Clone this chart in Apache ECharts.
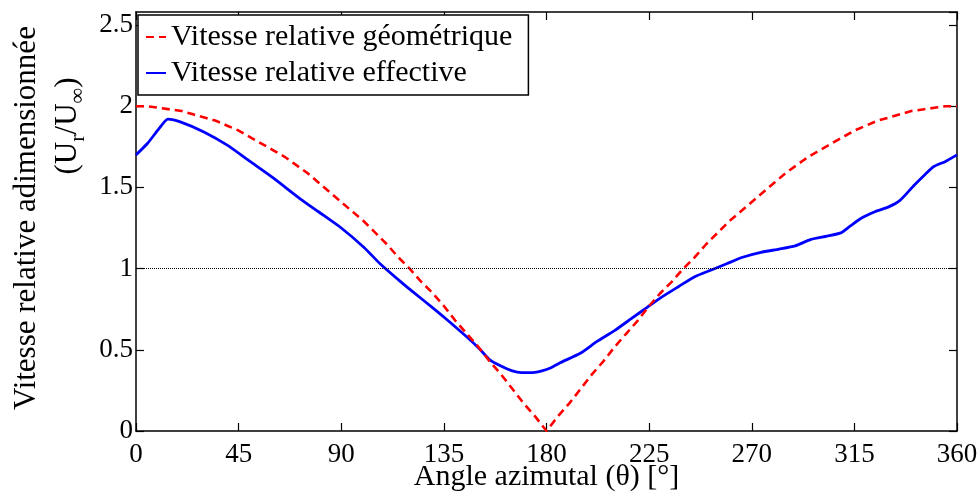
<!DOCTYPE html>
<html>
<head>
<meta charset="utf-8">
<script src="https://cdn.jsdelivr.net/npm/echarts@6/dist/echarts.min.js"></script>
<style>
  html, body { margin: 0; padding: 0; background: #fff; }
  #chart { width: 979px; height: 500px; }
</style>
</head>
<body>
<div id="chart"></div>
<script>
// données
var xTicks = [0, 45, 90, 135, 180, 225, 270, 315, 360];
var yTicks = [0, 0.5, 1, 1.5, 2, 2.5];

var geoAngles = [0, 5, 10, 15, 20, 25, 30, 35, 40, 45, 50, 55, 60, 65, 70, 75, 80, 85, 90,
    95, 100, 105, 110, 115, 120, 125, 130, 135, 140, 145, 150, 155, 160, 165, 170, 175, 180,
    185, 190, 195, 200, 205, 210, 215, 220, 225, 230, 235, 240, 245, 250, 255, 260, 265, 270,
    275, 280, 285, 290, 295, 300, 305, 310, 315, 320, 325, 330, 335, 340, 345, 350, 355, 360];
var geoValues = [2.00, 2.00, 1.99, 1.98, 1.97, 1.95, 1.93, 1.91, 1.88, 1.85, 1.81, 1.77, 1.73, 1.69, 1.64, 1.59, 1.53, 1.47, 1.41,
    1.35, 1.29, 1.22, 1.15, 1.07, 1.00, 0.92, 0.85, 0.77, 0.68, 0.60, 0.52, 0.43, 0.35, 0.26, 0.17, 0.09, 0.00,
    0.09, 0.17, 0.26, 0.35, 0.43, 0.52, 0.60, 0.68, 0.77, 0.85, 0.92, 1.00, 1.07, 1.15, 1.22, 1.29, 1.35, 1.41,
    1.47, 1.53, 1.59, 1.64, 1.69, 1.73, 1.77, 1.81, 1.85, 1.88, 1.91, 1.93, 1.95, 1.97, 1.98, 1.99, 2.00, 2.00];

var effAngles = [0, 5, 10, 14, 20, 30, 40, 50, 60, 72, 80, 90, 100, 107, 116, 122, 130, 136, 145, 151, 155, 160, 165, 169, 174, 178,
    182, 186, 195, 202, 210, 217, 224, 230, 238, 245, 252, 259, 266, 274, 282, 289, 296, 303, 309, 313, 318, 324, 330, 335, 341, 346, 350, 355, 360];
var effValues = [1.70, 1.77, 1.86, 1.92, 1.90, 1.84, 1.76, 1.66, 1.56, 1.43, 1.35, 1.25, 1.13, 1.03, 0.92, 0.85, 0.76, 0.69, 0.58, 0.50, 0.44, 0.40, 0.37, 0.36, 0.36, 0.37,
    0.39, 0.42, 0.48, 0.55, 0.62, 0.69, 0.76, 0.82, 0.89, 0.95, 0.99, 1.03, 1.07, 1.10, 1.12, 1.14, 1.18, 1.20, 1.22, 1.26, 1.31, 1.35, 1.38, 1.42, 1.51, 1.58, 1.63, 1.66, 1.70];

var refLevel = 1;

var serif = '"Liberation Serif", "DejaVu Serif", serif';

function pairs(xs, ys) {
    return xs.map(function (x, i) { return [x, ys[i]]; });
}

var myChart = echarts.init(document.getElementById('chart'));

var axisLine = { show: true, onZero: false, lineStyle: { color: '#000', width: 1.5 } };
var tickIn = { show: true, inside: true, length: 8, lineStyle: { color: '#000', width: 1.2 } };

var option = {
    animation: false,
    backgroundColor: '#fff',
    grid: { left: 136, right: 22, top: 12, bottom: 69, containLabel: false, outerBoundsMode: 'none' },
    legend: {
        orient: 'vertical',
        left: 138,
        top: 15,
        data: ['Vitesse relative géométrique', 'Vitesse relative effective'],
        backgroundColor: '#fff',
        borderColor: '#000',
        borderWidth: 1.5,
        borderRadius: 0,
        padding: [7, 16, 7, 7],
        itemGap: 6,
        itemWidth: 20,
        itemHeight: 14,
        itemStyle: { color: 'rgba(0,0,0,0)', borderWidth: 0 },
        textStyle: { fontFamily: serif, fontSize: 30, color: '#000' }
    },
    xAxis: [
        {
            type: 'value',
            min: 0, max: 360, interval: 45,
            name: 'Angle azimutal (θ) [°]',
            nameLocation: 'middle',
            nameGap: 31,
            nameMoveOverlap: false,
            nameTextStyle: { fontFamily: serif, fontSize: 30, color: '#000' },
            axisLine: axisLine,
            axisTick: tickIn,
            axisLabel: {
                fontFamily: serif, fontSize: 27, color: '#000', margin: 10,
                formatter: function (v) { return xTicks.indexOf(v) >= 0 ? String(v) : ''; }
            },
            splitLine: { show: false }
        },
        {
            type: 'value', position: 'top',
            min: 0, max: 360, interval: 45,
            axisLine: axisLine, axisTick: tickIn,
            axisLabel: { show: false }, splitLine: { show: false }
        }
    ],
    yAxis: [
        {
            type: 'value',
            min: 0, max: 2.58, interval: 0.5,
            axisLine: axisLine,
            axisTick: tickIn,
            axisLabel: {
                fontFamily: serif, fontSize: 27, color: '#000', margin: 3,
                showMaxLabel: false,
                formatter: function (v) { return yTicks.indexOf(v) >= 0 ? String(v) : ''; }
            },
            splitLine: { show: false }
        },
        {
            type: 'value', position: 'right',
            min: 0, max: 2.58, interval: 0.5,
            axisLine: axisLine, axisTick: tickIn,
            axisLabel: { show: false }, splitLine: { show: false }
        }
    ],
    graphic: [
        {
            type: 'text',
            x: 27, y: 218,
            rotation: Math.PI / 2,
            style: {
                text: 'Vitesse relative adimensionnée',
                font: '31px ' + serif,
                fill: '#000',
                align: 'center',
                verticalAlign: 'middle'
            }
        },
        {
            type: 'text',
            x: 68, y: 126,
            rotation: Math.PI / 2,
            style: {
                text: '(U{sub|r}/U{sub|∞})',
                font: '31px ' + serif,
                fill: '#000',
                align: 'center',
                verticalAlign: 'middle',
                rich: {
                    sub: { fontFamily: serif, fontSize: 22, padding: [20, 0, 0, 0], fill: '#000' }
                }
            }
        }
    ],
    series: [
        {
            name: 'Vitesse relative géométrique',
            type: 'line',
            data: pairs(geoAngles, geoValues),
            symbol: 'none',
            lineStyle: { color: '#ff0000', width: 2.6, type: [8, 5] },
            itemStyle: { color: '#ff0000' },
            z: 3,
            markLine: {
                silent: true,
                symbol: 'none',
                label: { show: false },
                lineStyle: { color: '#000', width: 1, type: [1, 1] },
                data: [{ yAxis: refLevel }]
            }
        },
        {
            name: 'Vitesse relative effective',
            type: 'line',
            data: pairs(effAngles, effValues),
            smooth: 0.2,
            symbol: 'none',
            lineStyle: { color: '#0000ff', width: 2.8 },
            itemStyle: { color: '#0000ff' },
            z: 2
        }
    ]
};

myChart.setOption(option);
</script>
</body>
</html>
